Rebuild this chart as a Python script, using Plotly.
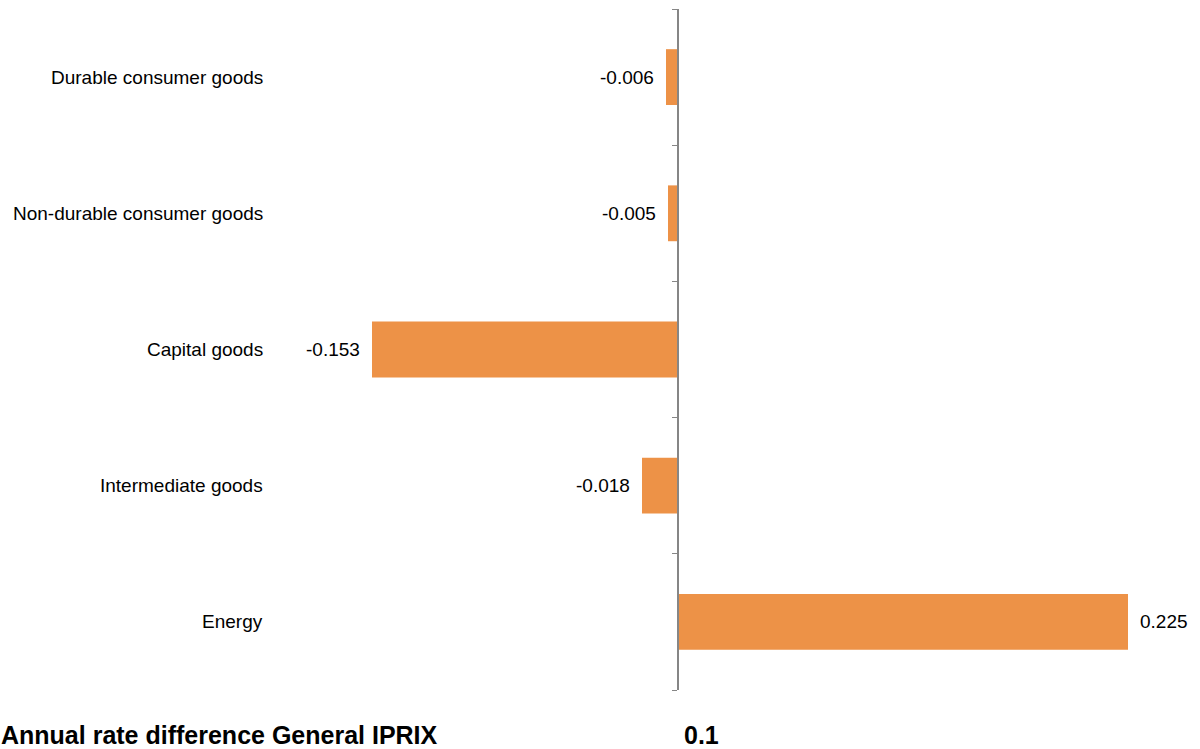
import plotly.graph_objects as go

categories = ["Energy", "Intermediate goods", "Capital goods",
              "Non-durable consumer goods", "Durable consumer goods"]
values = [0.225, -0.018, -0.153, -0.005, -0.006]
value_labels = ["0.225", "-0.018", "-0.153", "-0.005", "-0.006"]
footer_label = "Annual rate difference General IPRIX"
footer_value = "0.1"

positions = list(range(len(categories)))
bar_color = "#ED9247"
font_family = "Arial, Liberation Sans, sans-serif"

fig = go.Figure()
fig.add_trace(go.Bar(
    x=values, y=positions, orientation="h",
    marker=dict(color=bar_color, line=dict(width=0)),
    width=0.41,
    hoverinfo="skip",
))

# value labels outside the bar ends
for p, v, t in zip(positions, values, value_labels):
    fig.add_annotation(x=v, xref="x", y=p, yref="y", text=t, showarrow=False,
                       xanchor="left" if v >= 0 else "right",
                       xshift=10 if v >= 0 else -10,
                       font=dict(family=font_family, size=19, color="#000000"))

# category labels
for p, c in zip(positions, categories):
    fig.add_annotation(x=0, xref="paper", xanchor="right", xshift=-13,
                       y=p, yref="y", text=c, showarrow=False,
                       font=dict(family=font_family, size=19, color="#000000"))

fig.add_annotation(x=0, xref="paper", xanchor="left", xshift=-279,
                   y=0, yref="paper", yanchor="middle", yshift=-45,
                   text="<b>" + footer_label + "</b>", showarrow=False,
                   font=dict(family=font_family, size=25, color="#000000"))
fig.add_annotation(x=0.0115, xref="x", xanchor="center",
                   y=0, yref="paper", yanchor="middle", yshift=-45,
                   text="<b>" + footer_value + "</b>", showarrow=False,
                   font=dict(family=font_family, size=25, color="#000000"))

fig.update_layout(
    width=1200, height=749,
    margin=dict(l=278, r=22, t=9, b=59),
    plot_bgcolor="white", paper_bgcolor="white",
    showlegend=False,
    xaxis=dict(range=[-0.2, 0.25], showgrid=False, zeroline=False,
               showticklabels=False, showline=False, ticks=""),
    yaxis=dict(range=[-0.5, 4.5], showgrid=False, zeroline=False,
               showline=True, linecolor="#868686", linewidth=2,
               anchor="free", position=0.4444,
               tickvals=[-0.5, 0.5, 1.5, 2.5, 3.5, 4.5],
               ticktext=[""] * 6, ticks="outside", ticklen=5,
               tickcolor="#868686", tickwidth=1),
)

fig.write_html("out.html")
